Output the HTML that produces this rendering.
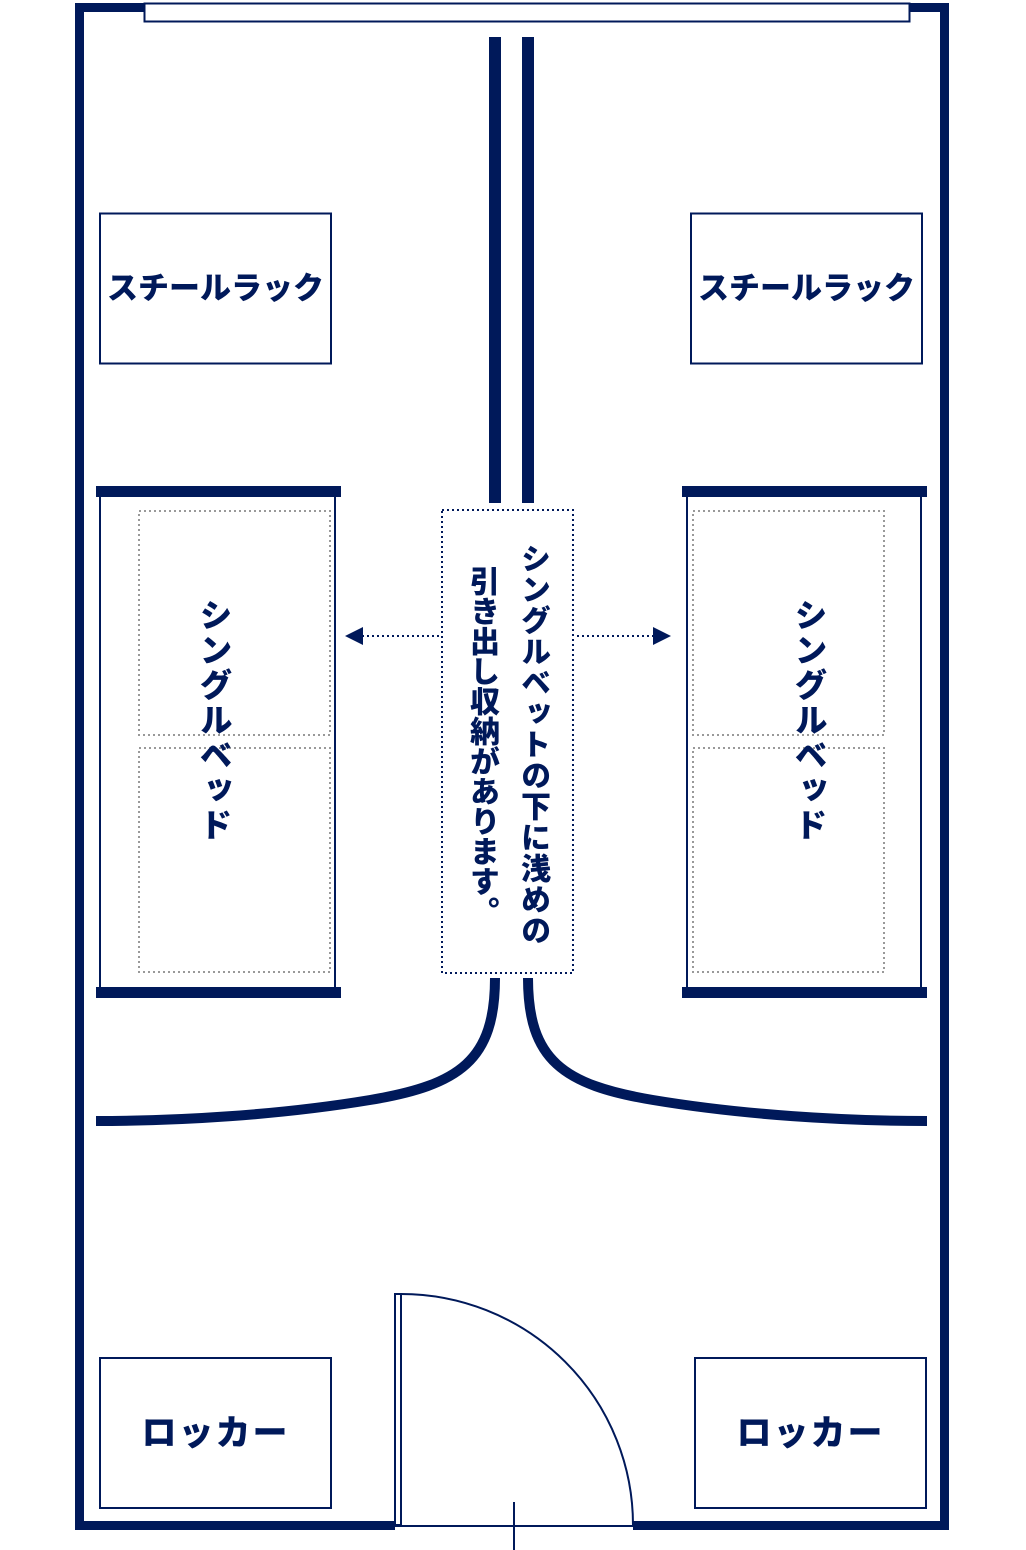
<!DOCTYPE html>
<html><head><meta charset="utf-8"><style>
html,body{margin:0;padding:0;background:#fff;}
body{width:1026px;height:1550px;position:relative;overflow:hidden;font-family:"Liberation Sans","Noto Sans CJK JP",sans-serif;color:#00195a;font-weight:900;}
svg{position:absolute;left:0;top:0;}
.t{position:absolute;white-space:nowrap;}
.v{writing-mode:vertical-rl;position:absolute;white-space:nowrap;}
</style></head><body>
<svg width="1026" height="1550" viewBox="0 0 1026 1550">
<g fill="#00195a">
<rect x="75" y="3" width="9" height="1527"/>
<rect x="940" y="3" width="9" height="1527"/>
<rect x="75" y="3" width="874" height="9"/>
<rect x="75" y="1521" width="320" height="9"/>
<rect x="633" y="1521" width="316" height="9"/>
<rect x="489" y="37" width="12" height="466"/>
<rect x="522" y="37" width="12" height="466"/>
<rect x="96" y="486" width="245" height="11"/>
<rect x="96" y="987" width="245" height="11"/>
<rect x="682" y="486" width="245" height="11"/>
<rect x="682" y="987" width="245" height="11"/>
</g>
<rect x="144.5" y="3.5" width="765" height="18" fill="#fff" stroke="#00195a" stroke-width="2"/>
<g fill="none" stroke="#00195a" stroke-width="2">
<rect x="100" y="213.5" width="231" height="150"/>
<rect x="691" y="213.5" width="231" height="150"/>
<rect x="100" y="1358" width="231" height="150"/>
<rect x="695" y="1358" width="231" height="150"/>
<line x1="100" y1="497" x2="100" y2="987"/>
<line x1="335" y1="497" x2="335" y2="987"/>
<line x1="687" y1="497" x2="687" y2="987"/>
<line x1="921" y1="497" x2="921" y2="987"/>
</g>
<g fill="none" stroke="#999" stroke-width="2" stroke-dasharray="2 3">
<rect x="139" y="511" width="191" height="224"/>
<rect x="139" y="748" width="191" height="224"/>
<rect x="693" y="511" width="191" height="224"/>
<rect x="693" y="748" width="191" height="224"/>
</g>
<rect x="442" y="510" width="131" height="463" fill="none" stroke="#00195a" stroke-width="2" stroke-dasharray="2 3"/>
<g stroke="#00195a" stroke-width="2" stroke-dasharray="2 3">
<line x1="362" y1="636" x2="440" y2="636"/>
<line x1="577" y1="636" x2="655" y2="636"/>
</g>
<polygon points="345,636 363,627 363,645" fill="#00195a"/>
<polygon points="671,636 653,627 653,645" fill="#00195a"/>
<g fill="none" stroke="#00195a" stroke-width="10">
<path d="M495,978 C495,1060 460,1085 370,1100 C280,1115 180,1121 96,1121"/>
<path d="M528,978 C528,1060 563,1085 653,1100 C743,1115 843,1121 927,1121"/>
</g>
<g fill="none" stroke="#00195a" stroke-width="2">
<rect x="395" y="1294" width="6" height="231"/>
<path d="M401,1294 A232,231 0 0 1 633,1525"/>
<line x1="395" y1="1526" x2="633" y2="1526"/>
<line x1="514" y1="1502" x2="514" y2="1550"/>
</g>
</svg>
<div class="t" style="left:100px;top:263px;width:231px;text-align:center;font-size:31px;">スチールラック</div>
<div class="t" style="left:691px;top:263px;width:231px;text-align:center;font-size:31px;">スチールラック</div>
<div class="t" style="left:100px;top:1405px;width:231px;text-align:center;font-size:35px;letter-spacing:2px;">ロッカー</div>
<div class="t" style="left:695px;top:1405px;width:231px;text-align:center;font-size:35px;letter-spacing:2px;">ロッカー</div>
<div class="v" style="left:189px;top:598px;font-size:33px;letter-spacing:2px;">シングルベッド</div>
<div class="v" style="left:784px;top:598px;font-size:33px;letter-spacing:2px;">シングルベッド</div>
<div class="v" style="left:510px;top:543px;font-size:30px;letter-spacing:1px;">シングルベットの下に浅めの</div>
<div class="v" style="left:459px;top:566px;font-size:30px;letter-spacing:0px;">引き出し収納があります。</div>
</body></html>
